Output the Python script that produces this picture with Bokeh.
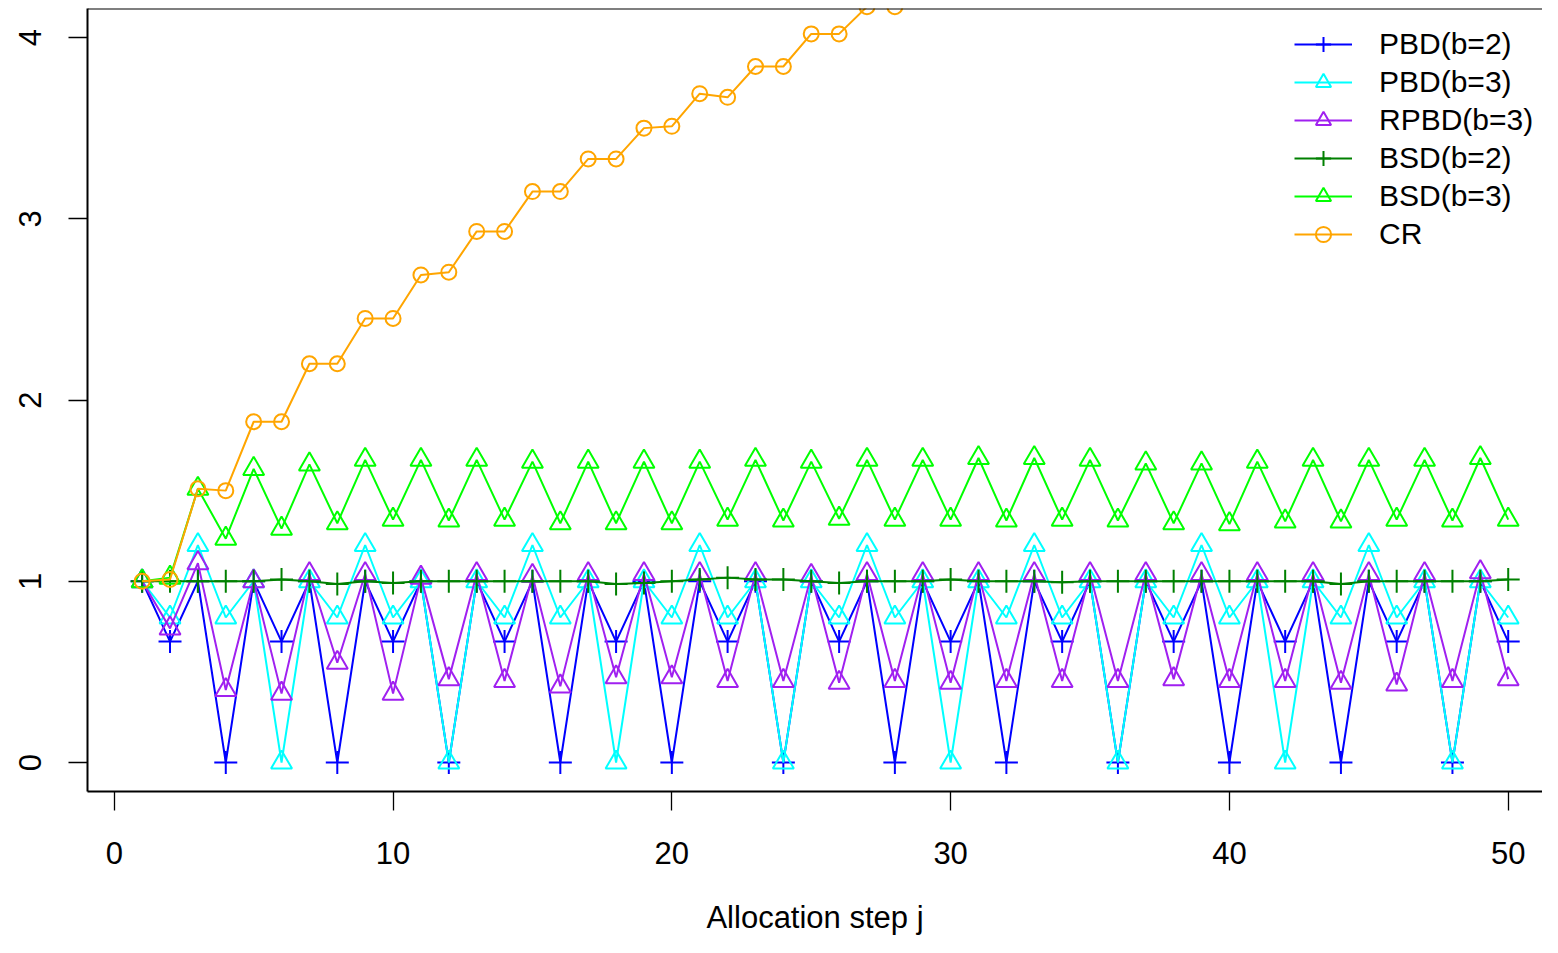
from bokeh.plotting import figure
from bokeh.models import FixedTicker, Span, Range1d
from bokeh.embed import file_html
from bokeh.resources import INLINE

x = list(range(1, 51))
x_cr = list(range(1, 29))

pbd2 = [1, 0.667, 1, 0, 1, 0.667, 1, 0, 1, 0.667, 1, 0, 1, 0.667, 1, 0, 1, 0.667, 1, 0,
        1, 0.667, 1, 0, 1, 0.667, 1, 0, 1, 0.667, 1, 0, 1, 0.667, 1, 0, 1, 0.667, 1, 0,
        1, 0.667, 1, 0, 1, 0.667, 1, 0, 1, 0.667]
pbd3 = [1, 0.8, 1.2, 0.8, 1, 0, 1, 0.8, 1.2, 0.8, 1, 0, 1, 0.8, 1.2, 0.8, 1, 0,
        1, 0.8, 1.2, 0.8, 1, 0, 1, 0.8, 1.2, 0.8, 1, 0, 1, 0.8, 1.2, 0.8, 1, 0,
        1, 0.8, 1.2, 0.8, 1, 0, 1, 0.8, 1.2, 0.8, 1, 0, 1, 0.8]
rpbd3 = [1.0, 0.74, 1.10, 0.40, 1.00, 0.38, 1.04, 0.55, 1.04, 0.38, 1.02, 0.46, 1.04, 0.45,
         1.03, 0.42, 1.04, 0.47, 1.04, 0.47, 1.04, 0.45, 1.04, 0.45, 1.03, 0.44, 1.04, 0.45,
         1.04, 0.44, 1.04, 0.45, 1.04, 0.45, 1.04, 0.45, 1.04, 0.46, 1.04, 0.45, 1.04, 0.45,
         1.04, 0.44, 1.04, 0.43, 1.04, 0.45, 1.05, 0.46]
bsd2 = [1.0, 1.0, 1.0, 1.0, 1.0, 1.01, 1.0, 0.985, 1.0, 0.99, 1.0, 1.0, 1.0, 1.0, 1.0, 1.0,
        1.0, 0.985, 0.99, 1.0, 1.01, 1.02, 1.01, 1.01, 1.0, 0.99, 1.0, 1.0, 1.0, 1.01, 1.0,
        1.0, 1.0, 0.995, 1.0, 1.0, 1.0, 1.0, 1.0, 1.0, 1.0, 1.0, 1.0, 0.985, 1.0, 1.0, 1.0,
        1.0, 1.0, 1.01]
bsd3 = [1.0, 1.02, 1.51, 1.235, 1.62, 1.29, 1.645, 1.32, 1.67, 1.34, 1.67, 1.335, 1.67, 1.34,
        1.66, 1.32, 1.66, 1.32, 1.66, 1.32, 1.66, 1.34, 1.67, 1.335, 1.66, 1.345, 1.67, 1.34,
        1.67, 1.34, 1.68, 1.335, 1.68, 1.34, 1.67, 1.335, 1.65, 1.32, 1.65, 1.315, 1.66, 1.33,
        1.67, 1.33, 1.67, 1.34, 1.67, 1.335, 1.68, 1.34]
cr = [1.0, 1.01, 1.51, 1.50, 1.88, 1.88, 2.20, 2.20, 2.45, 2.45, 2.69, 2.705, 2.93, 2.93,
      3.15, 3.15, 3.33, 3.33, 3.50, 3.51, 3.69, 3.67, 3.84, 3.84, 4.02, 4.02, 4.17, 4.17]

x_ticks = [0, 10, 20, 30, 40, 50]
y_ticks = [0, 1, 2, 3, 4]
x_title = "Allocation step j"

FONT = "Liberation Sans"
FS = "31px"
x_start, x_end = -0.96, 51.23
y_start, y_end = -0.16, 4.16

p = figure(width=1542, height=937, output_backend="svg", toolbar_location=None,
           x_range=Range1d(x_start, x_end), y_range=Range1d(y_start, y_end),
           min_border_left=87, min_border_right=0, min_border_top=8, min_border_bottom=138)
p.outline_line_color = None
p.xgrid.visible = False
p.ygrid.visible = False
p.background_fill_color = "white"

for ax in (p.xaxis, p.yaxis):
    ax.axis_line_color = "black"
    ax.axis_line_width = 2
    ax.major_tick_line_color = "black"
    ax.major_tick_line_width = 1.3
    ax.major_tick_in = 0
    ax.major_tick_out = 19
    ax.minor_tick_line_color = None
    ax.major_label_text_font = FONT
    ax.major_label_text_font_size = FS
    ax.major_label_text_color = "black"

p.xaxis.ticker = FixedTicker(ticks=x_ticks)
p.yaxis.ticker = FixedTicker(ticks=y_ticks)
p.xaxis.major_label_standoff = 31
p.yaxis.major_label_standoff = 28
p.yaxis.major_label_orientation = "vertical"
p.xaxis.axis_label = x_title
p.xaxis.axis_label_text_font = FONT
p.xaxis.axis_label_text_font_size = FS
p.xaxis.axis_label_text_font_style = "normal"
p.xaxis.axis_label_text_color = "black"
p.xaxis.axis_label_standoff = 33

top = Span(location=y_end, dimension="width", line_color="black", line_width=2)
p.add_layout(top)

series = [
    ("PBD(b=2)", x, pbd2, "#0000FF", "cross", 23),
    ("PBD(b=3)", x, pbd3, "#00FFFF", "triangle", 21),
    ("RPBD(b=3)", x, rpbd3, "#A020F0", "triangle", 21),
    ("BSD(b=2)", x, bsd2, "#008000", "cross", 23),
    ("BSD(b=3)", x, bsd3, "#00FF00", "triangle", 21),
    ("CR", x_cr, cr, "#FFA500", "circle", 15),
]
for name, xs, ys, col, mk, sz in series:
    p.line(xs, ys, line_color=col, line_width=2, legend_label=name)
    p.scatter(xs, ys, marker=mk, size=sz, line_color=col, fill_color=None,
              line_width=2, legend_label=name)

lg = p.legend[0]
lg.location = (1207, 538)
lg.border_line_color = None
lg.background_fill_alpha = 0
lg.padding = 0
lg.margin = 0
lg.spacing = 0
lg.glyph_width = 58
lg.glyph_height = 38
lg.label_height = 38
lg.label_standoff = 27
lg.label_text_font = FONT
lg.label_text_font_size = "30px"
lg.label_text_color = "black"

open("out.html", "w").write(file_html(p, INLINE))
